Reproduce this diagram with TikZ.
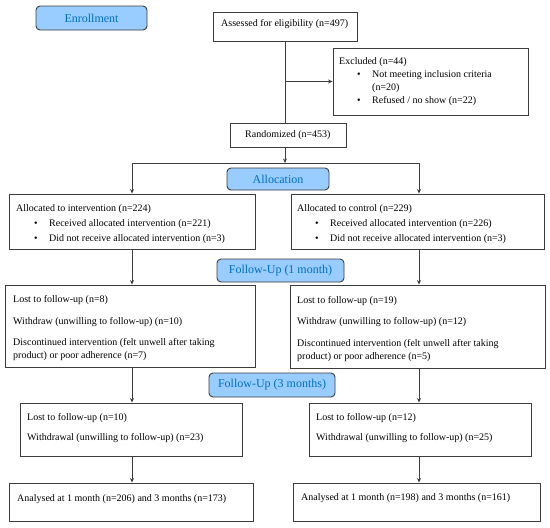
\documentclass[tikz,border=0pt]{standalone}
\usepackage{fontspec}
\setmainfont{Liberation Serif}
\usetikzlibrary{arrows.meta}
\definecolor{lblfill}{RGB}{153,204,255}
\definecolor{lbltext}{RGB}{0,112,192}
\definecolor{edgec}{RGB}{60,60,60}
\newcommand{\myitem}[1]{\makebox[33pt][l]{\hspace{18pt}\textbullet}#1}
\begin{document}
\begin{tikzpicture}[x=1pt,y=-1pt,
 box/.style={draw=edgec, line width=0.9pt, rectangle, inner sep=0pt},
 lbl/.style={draw=edgec, line width=0.9pt, rounded corners=4pt, fill=lblfill, text=lbltext, font=\fontsize{12}{14}\selectfont, inner sep=0pt},
 txt/.style={inner sep=0pt, align=left, anchor=base west, font=\fontsize{10}{13}\selectfont},
 arr/.style={draw=edgec, line width=0.9pt, -{Stealth[length=4.5pt,width=4pt]}},
 ln/.style={draw=edgec, line width=0.9pt}]
\useasboundingbox (0,0) rectangle (550,528);
\fill[white] (0,0) rectangle (550,528);

% labels
\node[lbl, minimum width=111pt, minimum height=24pt] (enroll) at (91.5,18) {Enrollment};
\node[lbl, minimum width=102pt, minimum height=22pt] (alloc) at (278,179) {Allocation};
\node[lbl, minimum width=127pt, minimum height=23pt] (fup1) at (280.5,270.5) {Follow-Up (1 month)};
\node[lbl, minimum width=126pt, minimum height=24pt] (fup3) at (272,385) {Follow-Up (3 months)};

% boxes
\node[box, minimum width=144pt, minimum height=29pt] (assess) at (285,26.5) {};
\node[box, minimum width=195pt, minimum height=67pt] (excl) at (430.5,81.5) {};
\node[box, minimum width=116pt, minimum height=24pt] (rand) at (288,135) {};
\node[box, minimum width=246pt, minimum height=55pt] (allocI) at (132,221.5) {};
\node[box, minimum width=253pt, minimum height=55pt] (allocC) at (417.5,221.5) {};
\node[box, minimum width=250pt, minimum height=82pt] (fuoneI) at (130,326) {};
\node[box, minimum width=255pt, minimum height=83pt] (fuoneC) at (417.5,326.5) {};
\node[box, minimum width=222pt, minimum height=53pt] (futhreeI) at (131,429.5) {};
\node[box, minimum width=222pt, minimum height=53pt] (futhreeC) at (420,429.5) {};
\node[box, minimum width=244pt, minimum height=38pt] (anI) at (131,502) {};
\node[box, minimum width=247pt, minimum height=38pt] (anC) at (416.5,502) {};

% texts (anchored at the baseline of their last line)
\node[txt] (assessT) at (221,26.5) {Assessed for eligibility (n=497)};
\node[txt] (exclT) at (339,103.5) {Excluded (n=44)\\
\myitem{Not meeting inclusion criteria}\\
\hspace*{33pt}(n=20)\\
\myitem{Refused / no show (n=22)}};
\node[txt] (randT) at (245,137.5) {Randomized (n=453)};
\node[txt] (allocIT) at (16,241) {Allocated to intervention (n=224)\\[2pt]
\myitem{Received allocated intervention (n=221)}\\[2pt]
\myitem{Did not receive allocated intervention (n=3)}};
\node[txt] (allocCT) at (297,241) {Allocated to control (n=229)\\[2pt]
\myitem{Received allocated intervention (n=226)}\\[2pt]
\myitem{Did not receive allocated intervention (n=3)}};
\node[txt] (fuoneIT) at (13,358.5) {Lost to follow-up (n=8)\\[8.5pt]
Withdraw (unwilling to follow-up) (n=10)\\[8.5pt]
Discontinued intervention (felt unwell after taking\\
product) or poor adherence (n=7)};
\node[txt] (fuoneCT) at (297,359) {Lost to follow-up (n=19)\\[8.5pt]
Withdraw (unwilling to follow-up) (n=12)\\[8.5pt]
Discontinued intervention (felt unwell after taking\\
product) or poor adherence (n=5)};
\node[txt] (futhreeIT) at (27,440.5) {Lost to follow-up (n=10)\\[7pt]
Withdrawal (unwilling to follow-up) (n=23)};
\node[txt] (futhreeCT) at (316,440.5) {Lost to follow-up (n=12)\\[7pt]
Withdrawal (unwilling to follow-up) (n=25)};
\node[txt] (anIT) at (17,501.5) {Analysed at 1 month (n=206) and 3 months (n=173)};
\node[txt] (anCT) at (301,500.5) {Analysed at 1 month (n=198) and 3 months (n=161)};

% connectors
\coordinate (split) at (285,163);
\coordinate (colL) at (132,0);
\coordinate (colR) at (419,0);
\draw[ln] (assess.south) -- (assess.south |- rand.north);
\draw[arr] (assess.south |- excl.west) -- (excl.west);
\draw[arr] (split |- rand.south) -- (split);
\draw[arr] (split) -| (colL |- allocI.north);
\draw[arr] (split) -| (colR |- allocC.north);
\draw[arr] (colL |- allocI.south) -- (colL |- fuoneI.north);
\draw[arr] (colR |- allocC.south) -- (colR |- fuoneC.north);
\draw[arr] (colL |- fuoneI.south) -- (colL |- futhreeI.north);
\draw[arr] (colR |- fuoneC.south) -- (colR |- futhreeC.north);
\draw[arr] (colL |- futhreeI.south) -- (colL |- anI.north);
\draw[arr] (colR |- futhreeC.south) -- (colR |- anC.north);
\end{tikzpicture}
\end{document}
